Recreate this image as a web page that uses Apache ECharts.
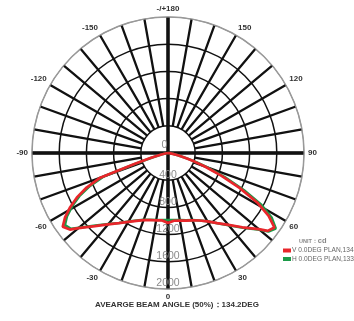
<!DOCTYPE html>
<html><head><meta charset="utf-8">
<script src="https://cdn.jsdelivr.net/npm/echarts@6/dist/echarts.min.js"></script>
<style>html,body{margin:0;padding:0;background:#fff}#c{width:354px;height:321px}</style>
</head><body><div id="c"></div>
<script>
// Angles in degrees (0 = straight down, positive to the right)
const angles = [-90,-85,-80,-77,-74,-72,-70,-67,-64,-61,-58,-55,-52,-50,-45,-40,-35,-30,-25,-20,-15,-10,-5,0,5,10,15,20,25,30,35,40,45,50,52,55,58,61,64,67,70,72,74,77,80,85,90];
// V 0.0DEG PLAN (red), cd
const valuesV = [0,10,40,100,270,520,1060,1300,1490,1645,1785,1890,1830,1720,1520,1370,1260,1170,1100,1050,1020,1005,995,1030,1000,1008,1030,1055,1095,1160,1260,1380,1545,1740,1860,1910,1745,1500,1170,850,570,410,280,150,70,20,0];
// H 0.0DEG PLAN (green), cd
const valuesH = [0,10,40,90,240,480,1000,1250,1450,1610,1750,1850,1810,1710,1510,1365,1255,1165,1095,1045,1015,1000,990,985,990,1000,1025,1050,1095,1160,1260,1385,1555,1755,1875,1935,1800,1570,1240,900,600,440,300,160,70,20,0];
const seriesNames = ['V 0.0DEG PLAN,134','H 0.0DEG PLAN,133'];
const radiusTicks = [0,400,800,1200,1600,2000];
const angleTickLabels = {'-180':'-/+180','-150':'-150','-120':'-120','-90':'-90','-60':'-60','-30':'-30','0':'0','30':'30','60':'60','90':'90','120':'120','150':'150'};
const footerText = 'AVEARGE BEAM ANGLE (50%)：134.2DEG';

const chart = echarts.init(document.getElementById('c'), null, {renderer:'canvas'});
const C = [168,153], R = 136;
const F = 'Liberation Sans, Arial, sans-serif';
chart.setOption({
  backgroundColor:'#fff',
  animation:false,
  textStyle:{fontFamily:F},
  title:[
    {text:footerText, left:95, top:301, padding:0, textStyle:{fontSize:8, fontWeight:'bold', color:'#333', fontFamily:F}},
    {text:'{a|UNIT：}{b|cd}', left:299, top:237, padding:0, textStyle:{rich:{a:{fontSize:5.5, color:'#888', fontFamily:F}, b:{fontSize:7.5, color:'#888', fontFamily:F}}}}
  ],
  legend:{data:seriesNames, orient:'vertical', left:283, top:247, itemWidth:8, itemHeight:4, itemGap:1.5, padding:0, icon:'rect',
    textStyle:{fontSize:6.6, color:'#666', fontFamily:F, padding:[0,0,0,-4]}},
  polar:[
    {center:C, radius:R},
    {center:C, radius:[R*radiusTicks[1]/radiusTicks[5], R]},
    {center:C, radius:R}
  ],
  angleAxis:[
    {polarIndex:0, type:'value', min:-180, max:180, interval:90, startAngle:90, clockwise:false,
      axisLine:{show:true, lineStyle:{color:'#999', width:1}}, axisTick:{show:false}, axisLabel:{show:false},
      splitLine:{show:true, lineStyle:{color:'#111', width:3.5}}, z:2},
    {polarIndex:1, type:'value', min:-180, max:180, interval:10, startAngle:90, clockwise:false,
      axisLine:{show:false}, axisTick:{show:false},
      axisLabel:{show:true, margin:4, fontSize:8, fontWeight:'bold', color:'#333', fontFamily:F,
        formatter:v => angleTickLabels[String(v)] || ''},
      splitLine:{show:true, lineStyle:{color:'#111', width:2.3}}, z:1},
    {polarIndex:2, type:'value', min:-180, max:180, startAngle:-90, clockwise:false, show:false}
  ],
  radiusAxis:[
    {polarIndex:0, type:'value', min:0, max:2000, interval:400, axisLine:{show:false}, axisTick:{show:false}, axisLabel:{show:false}, splitLine:{show:false}},
    {polarIndex:1, type:'value', min:400, max:2000, interval:400, axisLine:{show:false}, axisTick:{show:false}, axisLabel:{show:false},
      splitLine:{show:true, lineStyle:{color:['#111','#111','#111','#111','#999'], width:1.5}}, z:1},
    {polarIndex:2, type:'value', min:0, max:2000, interval:400, axisLine:{show:false}, axisTick:{show:false}, splitLine:{show:false},
      axisLabel:{show:true, margin:0, align:'center', verticalAlign:'bottom', fontSize:10.5, color:'#8a8a8a', fontFamily:F,
        formatter:v => v === 0 ? '{z|0}' : String(v),
        rich:{z:{fontSize:10.5, color:'#8a8a8a', fontFamily:F, padding:[0,7,2,0]}}}, z:6}
  ],
  series:[
    {name:seriesNames[1], type:'line', coordinateSystem:'polar', polarIndex:0, showSymbol:false, symbol:'none',
      data:angles.map((a,i)=>[valuesH[i], a]), lineStyle:{color:'#1b9a48', width:2.5}, itemStyle:{color:'#1b9a48'}, z:3},
    {name:seriesNames[0], type:'line', coordinateSystem:'polar', polarIndex:0, showSymbol:false, symbol:'none',
      data:angles.map((a,i)=>[valuesV[i], a]), lineStyle:{color:'#e8262b', width:2.7}, itemStyle:{color:'#e8262b'}, z:4}
  ]
});
</script></body></html>
